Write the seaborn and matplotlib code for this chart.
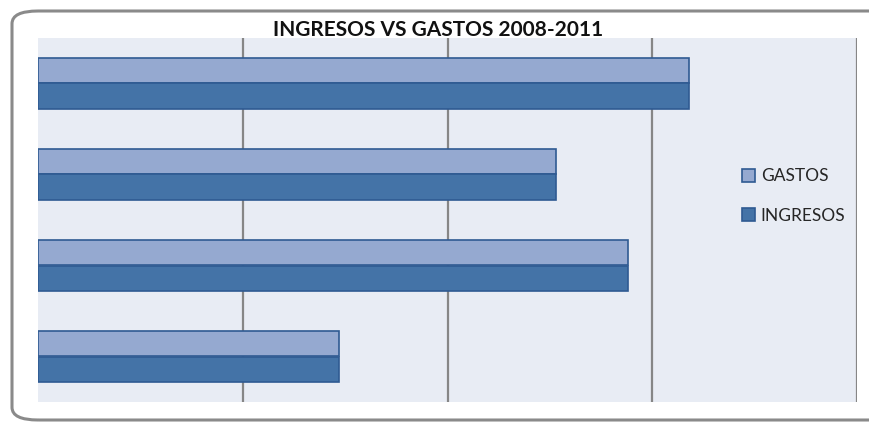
import matplotlib
matplotlib.use('Agg')
import matplotlib.pyplot as plt
from matplotlib.patches import FancyBboxPatch
import seaborn as sns
import pandas as pd

# Data (axis has no labels, units are gridline steps)
years = ['2011', '2010', '2009', '2008']
gastos = [3.18, 2.53, 2.88, 1.47]
ingresos = [3.18, 2.53, 2.88, 1.47]
series = ['GASTOS', 'INGRESOS']
colors = ['#95a9d0', '#4473a7']

df = pd.DataFrame({
    'year': years * 2,
    'value': gastos + ingresos,
    'serie': [series[0]] * len(years) + [series[1]] * len(years),
})

sns.set_style('white')
plt.rcParams['font.family'] = ['Lato', 'DejaVu Sans']

fig = plt.figure(figsize=(8.69, 4.23), dpi=100)
ax = fig.add_axes([38 / 869, 1 - 402 / 423, (857 - 38) / 869, (402 - 38) / 423])
ax.set_facecolor('#e8ecf4')

sns.barplot(data=df, x='value', y='year', hue='serie', order=years,
            hue_order=series, palette=colors, saturation=1, orient='h',
            width=0.57, edgecolor='#2f5a92', linewidth=1.2, ax=ax, zorder=3)

ax.set_xlim(0, 4)
ax.set_xticks([1, 2, 3, 4])
ax.grid(axis='x', color='#868686', linewidth=1.6, zorder=0)
ax.set_axisbelow(True)
ax.tick_params(left=False, bottom=False, labelleft=False, labelbottom=False)
ax.set_xlabel('')
ax.set_ylabel('')
for s in ax.spines.values():
    s.set_visible(False)

leg = ax.legend(loc='center left', bbox_to_anchor=(0.84, 0.566), frameon=False,
                fontsize=12.5, labelspacing=1.35, handlelength=0.75,
                handleheight=0.75, handletextpad=0.35)

fig.text(438 / 869, 1 - 30 / 423, 'INGRESOS VS GASTOS 2008-2011', ha='center',
         va='center', fontsize=15, fontweight='bold', color='#111111')

border = FancyBboxPatch((12 / 869, 3 / 423), 890 / 869, 409 / 423,
                        boxstyle='round,pad=0,rounding_size=0.03',
                        transform=fig.transFigure, fill=False,
                        edgecolor='#8a8a8a', linewidth=2.2, zorder=10)
fig.patches.append(border)

fig.savefig('out.png', dpi=100)
